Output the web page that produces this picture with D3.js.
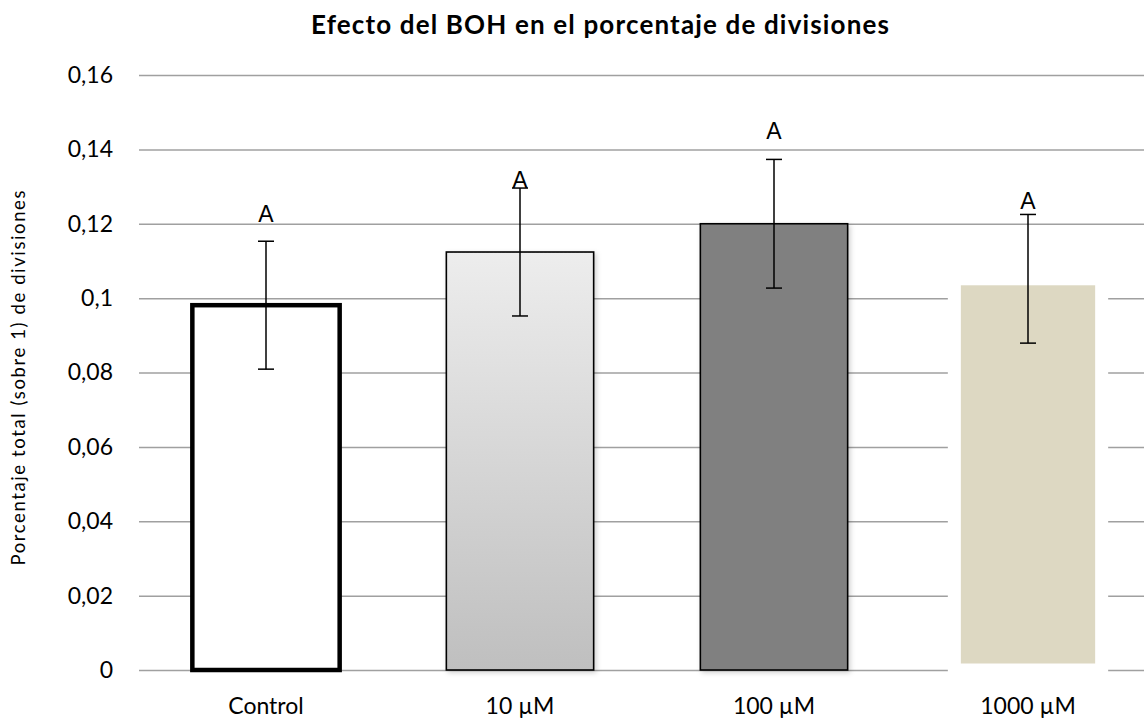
<!DOCTYPE html>
<html>
<head>
<meta charset="utf-8">
<script src="https://cdn.jsdelivr.net/npm/d3@7/dist/d3.min.js"></script>
<style>
  html, body { margin: 0; padding: 0; background: #fff; }
  svg { display: block; }
</style>
</head>
<body>
<svg id="chart" width="1144" height="718"></svg>
<script>
// Treatments, mean fraction of divisions and its error
const categories = ["Control", "10 µM", "100 µM", "1000 µM"];
const values = [0.0981, 0.1124, 0.1200, 0.1052];
const errors = [0.0172, 0.0172, 0.0173, 0.0173];
// Significance letters and the data height of their baselines
const letters = ["A", "A", "A", "A"];
const letterLevels = [0.1204, 0.1296, 0.1427, 0.1240];
const yTicks = [0, 0.02, 0.04, 0.06, 0.08, 0.1, 0.12, 0.14, 0.16];

const svg = d3.select("#chart");
const font = "Lato, 'Open Sans', sans-serif";

const y = d3.scaleLinear().domain([0, 0.16]).range([670, 75]);
const x = d3.scaleBand().domain(categories).range([139, 1155]).paddingInner(0.42).paddingOuter(0.21);

const fmt = d => d3.format("")(d).replace(".", ",");

// Horizontal gridlines with tick labels
const yAxis = d3.axisLeft(y).tickValues(yTicks).tickSize(-(1144 - 139)).tickFormat(fmt).tickPadding(26);
const gy = svg.append("g").attr("transform", "translate(139,0)").call(yAxis);
gy.select(".domain").remove();
gy.selectAll(".tick line").attr("stroke", "#a0a0a0").attr("stroke-width", 1.5);
gy.selectAll(".tick text").attr("font-family", font).attr("font-size", 23).attr("fill", "#000");

// Bar styles
const defs = svg.append("defs");
const grad = defs.append("linearGradient").attr("id", "g10").attr("x1", 0).attr("y1", 0).attr("x2", 0).attr("y2", 1);
grad.append("stop").attr("offset", "0%").attr("stop-color", "#ededed");
grad.append("stop").attr("offset", "100%").attr("stop-color", "#bfbfbf");
const sh = defs.append("filter").attr("id", "shadow").attr("x", "-10%").attr("y", "-10%").attr("width", "130%").attr("height", "130%");
sh.append("feDropShadow").attr("dx", 2).attr("dy", 2).attr("stdDeviation", 2.5).attr("flood-color", "#000").attr("flood-opacity", 0.18);

const styles = [
  { fill: "#ffffff", stroke: "#000", sw: 4.5, filter: null },
  { fill: "url(#g10)", stroke: "#000", sw: 1.6, filter: "url(#shadow)" },
  { fill: "#808080", stroke: "#000", sw: 1.6, filter: "url(#shadow)" },
  { fill: "#ddd8c2", stroke: "#ffffff", sw: 13, filter: null }
];

svg.append("g").selectAll("rect").data(categories).join("rect")
  .attr("x", d => x(d))
  .attr("y", (d, i) => y(values[i]))
  .attr("width", x.bandwidth())
  .attr("height", (d, i) => y(0) - y(values[i]))
  .attr("fill", (d, i) => styles[i].fill)
  .attr("stroke", (d, i) => styles[i].stroke)
  .attr("stroke-width", (d, i) => styles[i].sw)
  .attr("filter", (d, i) => styles[i].filter);

// Error bars
const cap = 8;
const eb = svg.append("g").attr("stroke", "#000").attr("stroke-width", 1.5);
categories.forEach((c, i) => {
  const cx = x(c) + x.bandwidth() / 2;
  const y1 = y(values[i] + errors[i]);
  const y2 = y(values[i] - errors[i]);
  eb.append("line").attr("x1", cx).attr("x2", cx).attr("y1", y1).attr("y2", y2);
  eb.append("line").attr("x1", cx - cap).attr("x2", cx + cap).attr("y1", y1).attr("y2", y1);
  eb.append("line").attr("x1", cx - cap).attr("x2", cx + cap).attr("y1", y2).attr("y2", y2);
});

// Significance letters
svg.append("g").selectAll("text").data(categories).join("text")
  .attr("x", d => x(d) + x.bandwidth() / 2)
  .attr("y", (d, i) => y(letterLevels[i]))
  .attr("text-anchor", "middle")
  .attr("font-family", "'Liberation Sans', Arial, sans-serif")
  .attr("font-size", 23)
  .text((d, i) => letters[i]);

// Category labels
svg.append("g").selectAll("text").data(categories).join("text")
  .attr("x", d => x(d) + x.bandwidth() / 2)
  .attr("y", 714)
  .attr("text-anchor", "middle")
  .attr("font-family", font)
  .attr("font-size", 23)
  .text(d => d);

// Title
svg.append("text")
  .attr("x", 600).attr("y", 34)
  .attr("text-anchor", "middle")
  .attr("font-family", font)
  .attr("font-weight", "bold")
  .attr("font-size", 26)
  .attr("textLength", 578)
  .attr("lengthAdjust", "spacing")
  .text("Efecto del BOH en el porcentaje de divisiones");

// Y axis title
svg.append("text")
  .attr("transform", "translate(25,378) rotate(-90)")
  .attr("text-anchor", "middle")
  .attr("font-family", font)
  .attr("font-size", 18.5)
  .attr("textLength", 375)
  .attr("lengthAdjust", "spacing")
  .text("Porcentaje total  (sobre 1)  de divisiones");
</script>
</body>
</html>
